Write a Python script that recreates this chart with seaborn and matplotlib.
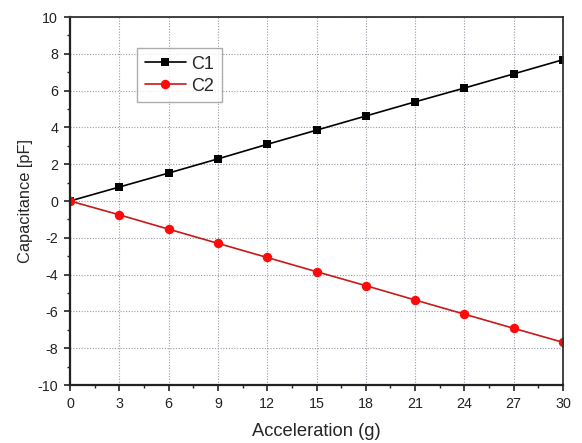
import numpy as np
import pandas as pd
import matplotlib
matplotlib.use("Agg")
import matplotlib.pyplot as plt
import seaborn as sns
from matplotlib.ticker import MultipleLocator

acceleration = [0, 3, 6, 9, 12, 15, 18, 21, 24, 27, 30]
c1_values = [0, 0.76, 1.52, 2.29, 3.08, 3.85, 4.62, 5.39, 6.14, 6.91, 7.68]
c2_values = [0, -0.75, -1.53, -2.30, -3.07, -3.84, -4.60, -5.38, -6.15, -6.92, -7.68]
series_names = ["C1", "C2"]

df = pd.DataFrame({
    "Acceleration": acceleration * 2,
    "Capacitance": c1_values + c2_values,
    "Series": ["C1"] * len(acceleration) + ["C2"] * len(acceleration),
})

sns.set_theme(style="white")
plt.rcParams['font.family'] = ['Liberation Sans', 'DejaVu Sans']
plt.rcParams['axes.unicode_minus'] = False

fig = plt.figure(figsize=(5.82, 4.43), dpi=100)
ax = fig.add_axes([0.1203, 0.1309, 0.8471, 0.8307])

sns.lineplot(data=df, x="Acceleration", y="Capacitance", hue="Series",
             style="Series", markers={"C1": "s", "C2": "o"}, dashes=False,
             palette={"C1": "black", "C2": "#d01818"}, markersize=6,
             markeredgewidth=0, linewidth=1.2, ax=ax)


def restyle(line):
    m = line.get_marker()
    if m == "s":
        line.set_markersize(5.8)
        line.set_markerfacecolor("black")
        line.set_markeredgecolor("black")
    elif m == "o":
        line.set_markersize(6.8)
        line.set_markerfacecolor("#ff0a0a")
        line.set_markeredgecolor("#ff0a0a")
        line.set_color("#c81818")


for line in ax.get_lines():
    restyle(line)

old = ax.get_legend()
handles = list(old.legend_handles)
labels = [t.get_text() for t in old.get_texts()]
for h in handles:
    restyle(h)
    h.set_linewidth(1.2)

ax.set_xlim(0, 30)
ax.set_ylim(-10, 10)
ax.xaxis.set_major_locator(MultipleLocator(3))
ax.xaxis.set_minor_locator(MultipleLocator(1.5))
ax.yaxis.set_major_locator(MultipleLocator(2))
ax.yaxis.set_minor_locator(MultipleLocator(1))

ax.grid(True, which="major", linestyle=(0, (1, 1.5)), color="#9a9aa8", linewidth=0.8)
ax.set_axisbelow(True)

ax.tick_params(axis="both", which="major", direction="out", length=4.5, width=1.2,
               labelsize=10.3, colors="#222222", bottom=True, left=True, pad=4)
ax.tick_params(axis="both", which="minor", direction="out", length=2.5, width=1.0,
               bottom=True, left=True, colors="#222222")
ax.tick_params(axis="both", which="both", top=False, right=False)

for side in ["left", "bottom"]:
    ax.spines[side].set_linewidth(1.6)
    ax.spines[side].set_color("#222222")
for side in ["top", "right"]:
    ax.spines[side].set_linewidth(1.3)
    ax.spines[side].set_color("#333333")
    ax.spines[side].set_visible(True)

ax.set_xlabel("Acceleration (g)", fontsize=13.2, labelpad=9)
ax.set_ylabel("Capacitance [pF]", fontsize=11.8, labelpad=3)

leg = ax.legend(handles, labels, loc="upper left", bbox_to_anchor=(0.136, 0.916),
                borderaxespad=0, fontsize=13, frameon=True, fancybox=False,
                edgecolor="#999999", handlelength=2.27, borderpad=0.42,
                labelspacing=0.28, handletextpad=0.3)
leg.get_frame().set_linewidth(1.0)
leg.get_frame().set_facecolor("white")

fig.savefig("out.png", dpi=100)
